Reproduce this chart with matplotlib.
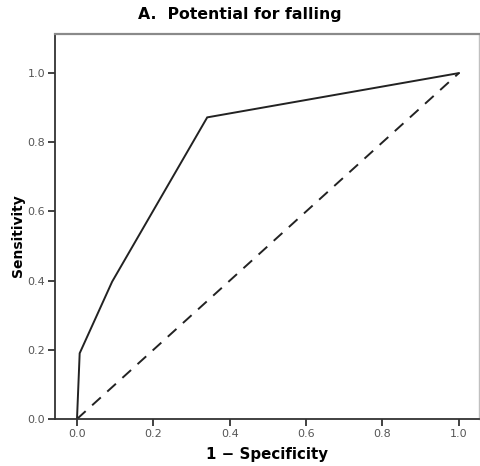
import matplotlib
matplotlib.use("Agg")
import matplotlib.pyplot as plt

# ROC curve data
fpr = [0.0, 0.007, 0.092, 0.341, 1.0]
tpr = [0.0, 0.19, 0.397, 0.872, 1.0]
ref_x = [0.0, 1.0]
ref_y = [0.0, 1.0]
ticks = [0.0, 0.2, 0.4, 0.6, 0.8, 1.0]
tick_labels = ["0.0", "0.2", "0.4", "0.6", "0.8", "1.0"]

fig = plt.figure(figsize=(4.8, 4.66), dpi=100)
ax = fig.add_axes([0.1146, 0.1009, 0.8824, 0.8261])

ax.plot(fpr, tpr, color="#222222", lw=1.4, solid_joinstyle="miter")
ax.plot(ref_x, ref_y, color="#222222", lw=1.4, linestyle=(0, (6, 4.5)))

ax.set_xlim(-0.0576, 1.0516)
ax.set_ylim(0.0, 1.113)
ax.set_xticks(ticks)
ax.set_xticklabels(tick_labels)
ax.set_yticks(ticks)
ax.set_yticklabels(tick_labels)
ax.tick_params(axis="both", direction="out", length=5, width=1.3,
               labelsize=8, colors="#333333", labelcolor="#555555", pad=2)

for side in ["left", "bottom"]:
    ax.spines[side].set_color("#333333")
    ax.spines[side].set_linewidth(1.3)
ax.spines["top"].set_color("#8a8a8a")
ax.spines["top"].set_linewidth(1.6)
ax.spines["right"].set_color("#c0c0c0")
ax.spines["right"].set_linewidth(1.0)

ax.set_xlabel("1 − Specificity", fontsize=10.8, fontweight="bold", labelpad=6)
ax.set_ylabel("Sensitivity", fontsize=10, fontweight="bold")
ax.yaxis.set_label_coords(-0.071, 0.475)
fig.text(0.5, 0.969, "A.  Potential for falling", ha="center", va="center",
         fontsize=11.3, fontweight="bold")

fig.savefig("out.png", dpi=100)
